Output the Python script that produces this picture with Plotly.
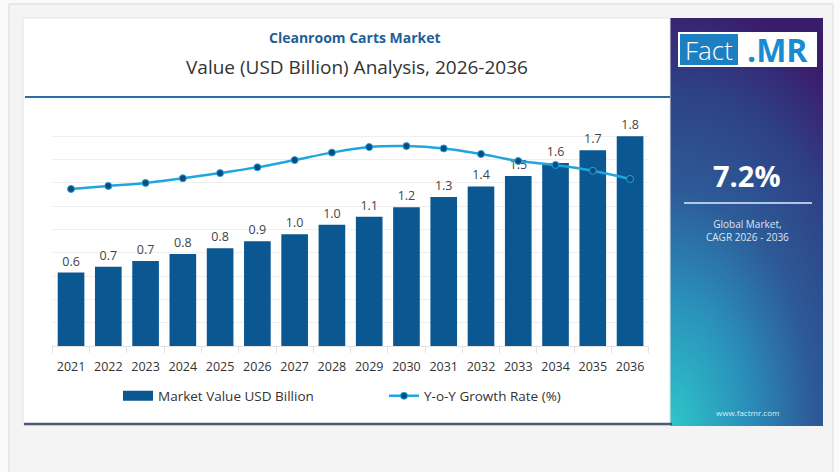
import base64
import plotly.graph_objects as go

# ---------------- data ----------------
years = [str(y) for y in range(2021, 2037)]
market_value = [0.63, 0.68, 0.73, 0.79, 0.84, 0.90, 0.96, 1.04,
                1.11, 1.19, 1.28, 1.37, 1.46, 1.57, 1.68, 1.80]
yoy_growth = [6.74, 6.87, 7.00, 7.20, 7.42, 7.67, 7.98, 8.30,
              8.54, 8.58, 8.48, 8.24, 7.94, 7.77, 7.52, 7.17]
cagr_text = "7.2%"
title_text = "Cleanroom Carts Market"
subtitle_text = "Value (USD Billion) Analysis, 2026-2036"
bar_name = "Market Value USD Billion"
line_name = "Y-o-Y Growth Rate (%)"

W, H = 840, 472
BAR = "#0b5791"
LINE = "#1fa6df"
FONT = "Open Sans"


def px(x):
    return x / W


def py(y):
    return 1 - y / H


fig = go.Figure()
fig.add_trace(go.Bar(
    x=years, y=market_value, name=bar_name, legendgroup="bar", showlegend=False,
    marker=dict(color=BAR, line=dict(width=0)),
    texttemplate="%{y:.1f}", textposition="outside",
    textfont=dict(family=FONT, size=12.5, color="#444444"),
    cliponaxis=False,
))
# legend entry for the bars (wide rectangular swatch like the original)
fig.add_trace(go.Scatter(
    x=[None], y=[None], name=bar_name, legendgroup="bar", mode="lines",
    line=dict(color=BAR, width=10), hoverinfo="skip",
))
fig.add_trace(go.Scatter(
    x=years, y=yoy_growth, name=line_name, yaxis="y2",
    mode="lines+markers", line=dict(color=LINE, width=2.5, shape="spline"),
    marker=dict(color="#0d4a7d", size=7, line=dict(color=LINE, width=1)),
    cliponaxis=False,
))

# gradient panel as svg image
pw, ph = 153, 408
svg = f'''<svg xmlns="http://www.w3.org/2000/svg" width="{pw}" height="{ph}" viewBox="0 0 {pw} {ph}">
<defs><radialGradient id="g" gradientUnits="userSpaceOnUse" cx="0" cy="{ph}" r="1"
 gradientTransform="translate(0 {ph}) scale(260 430) translate(0 -{ph})">
<stop offset="0" stop-color="#2ec6ca"/><stop offset="0.3" stop-color="#2a8fba"/>
<stop offset="0.55" stop-color="#2d5a98"/><stop offset="0.78" stop-color="#2d4286"/>
<stop offset="1" stop-color="#3a1c6c"/>
</radialGradient></defs><rect width="{pw}" height="{ph}" fill="url(#g)"/></svg>'''
svg_uri = "data:image/svg+xml;base64," + base64.b64encode(svg.encode()).decode()

shapes = [
    # outer white strips
    dict(type="rect", xref="paper", yref="paper", x0=0, x1=px(9), y0=0, y1=1,
         fillcolor="#fafafa", line=dict(width=0), layer="below"),
    dict(type="rect", xref="paper", yref="paper", x0=0, x1=1, y0=py(4), y1=1,
         fillcolor="#fafafa", line=dict(width=0), layer="below"),
    dict(type="rect", xref="paper", yref="paper", x0=px(833), x1=1, y0=0, y1=1,
         fillcolor="#fbfbfb", line=dict(width=0), layer="below"),
    dict(type="line", xref="paper", yref="paper", x0=px(9), x1=px(9), y0=0, y1=py(4),
         line=dict(color="#e3e3e3", width=1.5), layer="below"),
    dict(type="line", xref="paper", yref="paper", x0=px(9), x1=px(833), y0=py(4), y1=py(4),
         line=dict(color="#e3e3e3", width=1.5), layer="below"),
    dict(type="line", xref="paper", yref="paper", x0=px(833), x1=px(833), y0=0, y1=py(4),
         line=dict(color="#e3e3e3", width=1.5), layer="below"),
    # white card
    dict(type="rect", xref="paper", yref="paper", x0=px(23), x1=px(670), y0=py(425), y1=py(18),
         fillcolor="white", line=dict(color="#e4e4e4", width=1), layer="below"),
    # header rule
    dict(type="line", xref="paper", yref="paper", x0=px(25), x1=px(670), y0=py(97), y1=py(97),
         line=dict(color="#2b6ea6", width=2), layer="below"),
    # bottom dark rule
    dict(type="line", xref="paper", yref="paper", x0=px(24), x1=px(672), y0=py(424), y1=py(424),
         line=dict(color="#4c5b72", width=2.5), layer="below"),
    # logo
    dict(type="rect", xref="paper", yref="paper", x0=px(678), x1=px(817), y0=py(67), y1=py(32),
         fillcolor="white", line=dict(width=0), layer="above"),
    dict(type="rect", xref="paper", yref="paper", x0=px(680), x1=px(738), y0=py(65), y1=py(34),
         fillcolor="#1b7fc1", line=dict(width=0), layer="above"),
    # separator on panel
    dict(type="line", xref="paper", yref="paper", x0=px(684), x1=px(812), y0=py(203), y1=py(203),
         line=dict(color="rgba(205,220,238,0.85)", width=2), layer="above"),
]


def ann(text, x, y, size, color, weight=None, align="center"):
    f = dict(family=FONT, size=size, color=color)
    if weight:
        f["weight"] = weight
    return dict(text=text, x=px(x), y=py(y), xref="paper", yref="paper",
                xanchor="center", yanchor="middle", align=align,
                showarrow=False, font=f)


annotations = [
    ann(f"<b>{title_text}</b>", 355, 37, 14, "#1f5f99"),
    ann(subtitle_text, 357, 67, 19, "#333333"),
    ann("Fact", 709, 49.5, 26, "white", weight=300),
    ann("<b>.MR</b>", 777, 49.5, 32, "#1b8bd0"),
    ann(f"<b>{cagr_text}</b>", 747, 175, 29, "white"),
    ann("Global Market,<br>CAGR 2026 - 2036", 747, 231, 10, "#dde6f2"),
    ann("www.factmr.com", 747, 412, 8, "#d8eef4"),
]

fig.update_layout(
    width=W, height=H, margin=dict(l=0, r=0, t=0, b=0),
    paper_bgcolor="#f4f4f4", plot_bgcolor="rgba(0,0,0,0)",
    font=dict(family=FONT, color="#333333"),
    bargap=0.285,
    xaxis=dict(domain=[px(52.4), px(648.7)], range=[-0.5, 15.5], autorange=False,
               showgrid=False, showline=True, tickangle=0,
               linecolor="#e2e2e2", linewidth=1, ticks="outside", tickson="boundaries",
               ticklen=6, tickcolor="#e2e2e2", ticklabelstandoff=9,
               tickfont=dict(family=FONT, size=12.5, color="#333333")),
    yaxis=dict(domain=[py(346), py(113)], range=[0, 2.0], dtick=0.2,
               showgrid=True, gridcolor="#efefef", gridwidth=1,
               showticklabels=False, zeroline=False, showline=False),
    yaxis2=dict(domain=[py(346), py(113)], range=[0, 10], overlaying="y",
                visible=False),
    showlegend=True,
    legend=dict(orientation="h", x=px(118), y=py(396), xanchor="left", yanchor="middle",
                entrywidth=221, entrywidthmode="pixels", itemwidth=30,
                font=dict(family=FONT, size=13.5, color="#333333"),
                bgcolor="rgba(0,0,0,0)"),
    shapes=shapes,
    annotations=annotations,
    images=[dict(source=svg_uri, xref="paper", yref="paper", x=px(670), y=py(18),
                 sizex=px(823) - px(670), sizey=(426 - 18) / H, xanchor="left",
                 yanchor="top", sizing="stretch", layer="below")],
)

fig.write_html("out.html", config={"displayModeBar": False},
               post_script="document.body.style.margin='0px';document.body.style.padding='0px';")
